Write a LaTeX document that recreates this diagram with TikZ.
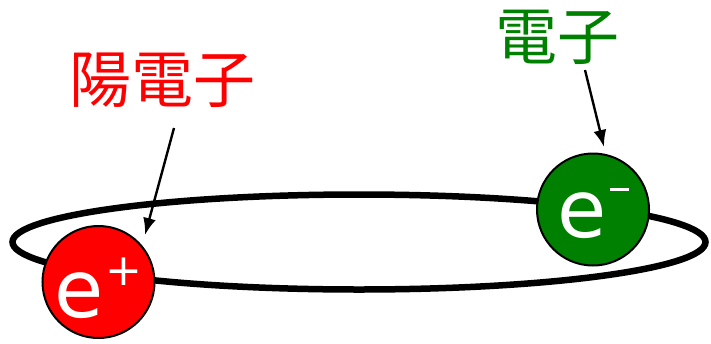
\documentclass[tikz,border=0pt]{standalone}
\usepackage{fontspec}
\setsansfont{DejaVu Sans}
\newfontfamily\cjk{Noto Sans CJK JP}
\usetikzlibrary{arrows.meta}
\definecolor{posred}{RGB}{255,0,0}
\definecolor{elgreen}{RGB}{0,128,0}
\tikzset{
  particle/.style={circle, draw=black, line width=2pt, minimum size=112pt, inner sep=0pt},
  ptext/.style={text=white, font=\sffamily\fontsize{80}{80}\selectfont},
  label/.style={font=\cjk\fontsize{62}{62}\selectfont, inner sep=0pt},
  pointer/.style={line width=2.4pt, -{Latex[length=17pt,width=13pt]}},
}
\begin{document}
\begin{tikzpicture}[x=1pt,y=1pt]
\useasboundingbox (0,0) rectangle (711,-343);
\draw[line width=6.5pt] (359,-242) ellipse [x radius=346.5, y radius=47.5];
\node[particle, fill=posred] (pos) at (98.5,-282) {};
\node[particle, fill=elgreen] (ele) at (593,-209.5) {};
\node[ptext, anchor=center] (post) at ([yshift=-6pt]pos.center) {e\kern2pt\raisebox{0.4em}{\fontsize{44}{44}\selectfont +}};
\node[ptext, anchor=center] (elet) at ([yshift=-4pt]ele.center) {e\kern3pt\rule[0.58em]{19pt}{3.2pt}};
\node[label, text=posred] (poslab) at (162,-80) {陽電子};
\node[label, text=elgreen] (elelab) at (557,-37) {電子};
\coordinate (posfrom) at (174,-128);
\coordinate (posto) at (145,-235);
\coordinate (elefrom) at (585,-70);
\coordinate (eleto) at (604,-147);
\draw[pointer] (posfrom) -- (posto);
\draw[pointer] (elefrom) -- (eleto);
\end{tikzpicture}
\end{document}
